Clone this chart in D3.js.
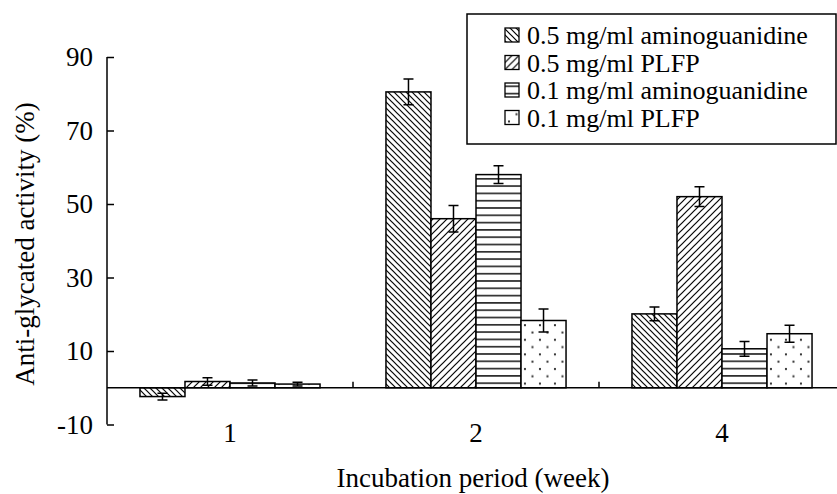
<!DOCTYPE html>
<html>
<head>
<meta charset="utf-8">
<script src="https://cdn.jsdelivr.net/npm/d3@7"></script>
<style>
  body { margin: 0; background: #fff; }
  text { font-family: "Liberation Serif", "Times New Roman", serif; fill: #000; }
</style>
</head>
<body>
<div id="chart"></div>
<script>
(function () {
	// data
	var weeks = ["1", "2", "4"];
	var seriesNames = ["0.5 mg/ml aminoguanidine", "0.5 mg/ml PLFP", "0.1 mg/ml aminoguanidine", "0.1 mg/ml PLFP"];
	var ag05 = [-2.4, 80.5, 20.1];
	var plfp05 = [1.7, 46.0, 52.0];
	var ag01 = [1.3, 58.0, 10.6];
	var plfp01 = [1.0, 18.3, 14.7];
	var errAg05 = [0.9, 3.5, 1.9];
	var errPlfp05 = [1.0, 3.6, 2.7];
	var errAg01 = [0.8, 2.4, 2.0];
	var errPlfp01 = [0.5, 3.1, 2.3];
	var yTicks = [-10, 10, 30, 50, 70, 90];

	var values = [ag05, plfp05, ag01, plfp01];
	var errors = [errAg05, errPlfp05, errAg01, errPlfp01];
	var patterns = ["pBack", "pFwd", "pHoriz", "pDots"];

	var width = 837, height = 494;

	var svg = d3.select("#chart")
		.append("svg")
		.attr("width", width)
		.attr("height", height);

	// hatch patterns
	var defs = svg.append("defs");
	var p1 = defs.append("pattern").attr("id", "pBack").attr("patternUnits", "userSpaceOnUse")
		.attr("width", 6).attr("height", 6);
	p1.append("rect").attr("width", 6).attr("height", 6).attr("fill", "#fff");
	p1.append("path").attr("d", "M-1,-1L7,7M-1,5L1,7M5,-1L7,1").attr("stroke", "#000").attr("stroke-width", 1.2);

	var p2 = defs.append("pattern").attr("id", "pFwd").attr("patternUnits", "userSpaceOnUse")
		.attr("width", 7).attr("height", 7);
	p2.append("rect").attr("width", 7).attr("height", 7).attr("fill", "#fff");
	p2.append("path").attr("d", "M-1,8L8,-1M-1,1L1,-1M6,8L8,6").attr("stroke", "#000").attr("stroke-width", 1.2);

	var p3 = defs.append("pattern").attr("id", "pHoriz").attr("patternUnits", "userSpaceOnUse")
		.attr("width", 8).attr("height", 7.3);
	p3.append("rect").attr("width", 8).attr("height", 7.3).attr("fill", "#fff");
	p3.append("path").attr("d", "M0,3.6H8").attr("stroke", "#000").attr("stroke-width", 1.4);

	var p4 = defs.append("pattern").attr("id", "pDots").attr("patternUnits", "userSpaceOnUse")
		.attr("width", 15).attr("height", 14.6);
	p4.append("rect").attr("width", 15).attr("height", 14.6).attr("fill", "#fff");
	p4.append("rect").attr("x", 3).attr("y", 3).attr("width", 2).attr("height", 2).attr("fill", "#333");
	p4.append("rect").attr("x", 10.5).attr("y", 10.3).attr("width", 2).attr("height", 2).attr("fill", "#333");

	// scales
	var yScale = d3.scaleLinear().domain([-10, 90]).range([424.5, 57]);
	var x0 = d3.scaleBand().domain(weeks).range([107, 845]).paddingInner(0.268).paddingOuter(0.134);
	var x1 = d3.scaleBand().domain(d3.range(seriesNames.length)).range([0, x0.bandwidth()]);

	// y axis (ticks inward)
	var yAxis = d3.axisRight(yScale).tickValues(yTicks).tickSize(7).tickFormat("");
	var gy = svg.append("g").attr("transform", "translate(107,0)").call(yAxis);
	gy.select(".domain").attr("d", "M0," + yScale(-10) + "V" + yScale(90))
		.attr("stroke", "#000").attr("stroke-width", 1.5);
	gy.selectAll(".tick line").attr("stroke-width", 1.5);

	svg.selectAll(".ylab")
		.data(yTicks)
		.enter().append("text")
		.attr("class", "ylab")
		.attr("x", 93)
		.attr("y", function (d) { return yScale(d); })
		.attr("dy", "0.35em")
		.attr("text-anchor", "end")
		.attr("font-size", "27px")
		.text(function (d) { return d; });

	// bars
	var groups = svg.selectAll(".grp")
		.data(weeks)
		.enter().append("g")
		.attr("class", "grp")
		.attr("transform", function (d) { return "translate(" + x0(d) + ",0)"; });

	groups.selectAll("rect")
		.data(function (d, i) { return values.map(function (s, k) { return { k: k, v: s[i], e: errors[k][i] }; }); })
		.enter().append("rect")
		.attr("x", function (d) { return x1(d.k); })
		.attr("width", x1.bandwidth())
		.attr("y", function (d) { return yScale(Math.max(0, d.v)); })
		.attr("height", function (d) { return Math.abs(yScale(d.v) - yScale(0)); })
		.attr("fill", function (d) { return "url(#" + patterns[d.k] + ")"; })
		.attr("stroke", "#000")
		.attr("stroke-width", 1.5);

	// error bars
	var eb = groups.selectAll(".err")
		.data(function (d, i) { return values.map(function (s, k) { return { k: k, v: s[i], e: errors[k][i] }; }); })
		.enter().append("g")
		.attr("class", "err")
		.attr("transform", function (d) { return "translate(" + (x1(d.k) + x1.bandwidth() / 2) + ",0)"; });
	eb.append("path")
		.attr("d", function (d) {
			var t = yScale(d.v + d.e), b = yScale(d.v - d.e);
			return "M0," + t + "V" + b + "M-5," + t + "H5M-5," + b + "H5";
		})
		.attr("stroke", "#000")
		.attr("stroke-width", 1.5)
		.attr("fill", "none");

	// zero line with category boundary ticks
	svg.append("line")
		.attr("x1", 107).attr("x2", width)
		.attr("y1", yScale(0)).attr("y2", yScale(0))
		.attr("stroke", "#000").attr("stroke-width", 1.5);
	svg.selectAll(".bt")
		.data(weeks.slice(1))
		.enter().append("line")
		.attr("class", "bt")
		.attr("x1", function (d) { return x0(d) - x0.step() * x0.paddingInner() / 2; })
		.attr("x2", function (d) { return x0(d) - x0.step() * x0.paddingInner() / 2; })
		.attr("y1", yScale(0)).attr("y2", yScale(0) - 6)
		.attr("stroke", "#000").attr("stroke-width", 1.5);

	// x labels
	svg.selectAll(".xlab")
		.data(weeks)
		.enter().append("text")
		.attr("class", "xlab")
		.attr("x", function (d) { return x0(d) + x0.bandwidth() / 2; })
		.attr("y", 442)
		.attr("text-anchor", "middle")
		.attr("font-size", "27px")
		.text(function (d) { return d; });

	svg.append("text")
		.attr("x", 473).attr("y", 487)
		.attr("text-anchor", "middle")
		.attr("font-size", "27px")
		.text("Incubation period (week)");

	svg.append("text")
		.attr("transform", "translate(34,244) rotate(-90)")
		.attr("text-anchor", "middle")
		.attr("font-size", "27px")
		.text("Anti-glycated activity (%)");

	// legend
	var lg = svg.append("g");
	lg.append("rect")
		.attr("x", 467).attr("y", 14).attr("width", 369).attr("height", 130)
		.attr("fill", "#fff").attr("stroke", "#000").attr("stroke-width", 1.5);
	var items = lg.selectAll(".li")
		.data(seriesNames)
		.enter().append("g")
		.attr("class", "li")
		.attr("transform", function (d, i) { return "translate(505," + (35 + i * 27.5) + ")"; });
	items.append("rect")
		.attr("x", 0).attr("y", -7).attr("width", 14).attr("height", 14)
		.attr("fill", function (d, i) { return "url(#" + patterns[i] + ")"; })
		.attr("stroke", "#000").attr("stroke-width", 1.3);
	items.append("text")
		.attr("x", 22).attr("y", 0).attr("dy", "0.35em")
		.attr("font-size", "26px")
		.text(function (d) { return d; });
})();
</script>
</body>
</html>
